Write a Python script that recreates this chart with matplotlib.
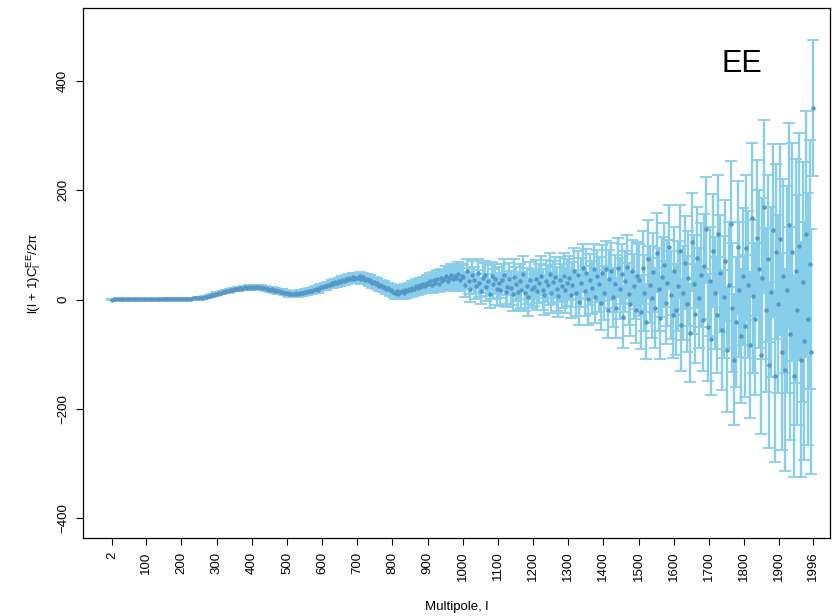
import numpy as np
import matplotlib
matplotlib.use("Agg")
import matplotlib.pyplot as plt

plt.rcParams['font.family'] = ['Liberation Sans', 'DejaVu Sans']
plt.rcParams['mathtext.fontset'] = 'custom'
plt.rcParams['mathtext.rm'] = 'Liberation Sans'
plt.rcParams['mathtext.it'] = 'Liberation Sans:italic'

# multipoles: every 5th l from 2 to 1992, plus the last one, 1996
ell = np.append(np.arange(2, 1993, 5), 1996)

# l(l+1)C_l^EE/2pi, 20 points per 100 multipoles
ee_vals = [
    0.2, 0.4, 0.3, 0.5, 0.6, 0.5, 0.7, 0.6, 0.8, 0.7, 0.8, 0.9, 0.8, 0.9, 1.0, 0.9, 1.0, 1.1, 1.0, 1.1,
    1.1, 1.2, 1.1, 1.3, 1.2, 1.3, 1.4, 1.3, 1.4, 1.5, 1.4, 1.5, 1.5, 1.6, 1.5, 1.6, 1.7, 1.6, 1.7, 1.8,
    1.8, 1.9, 1.9, 2.0, 2.1, 2.0, 2.2, 2.3, 2.4, 2.6, 2.9, 3.3, 3.8, 4.5, 5.2, 6.0, 7.0, 7.9, 8.8, 9.9,
    11.2, 12.5, 12.1, 14.0, 14.3, 15.8, 15.2, 17.1, 17.6, 18.0, 19.4, 18.8, 20.3, 20.9, 19.9, 21.8, 22.4, 21.5, 23.0, 22.2,
    23.6, 22.1, 24.0, 22.8, 21.5, 22.9, 20.7, 21.2, 19.6, 19.9, 18.1, 18.8, 16.7, 17.2, 15.4, 15.9, 14.1, 14.6, 13.0, 12.8,
    11.8, 10.3, 11.1, 9.6, 10.4, 11.5, 10.1, 12.0, 12.6, 11.8, 14.0, 13.6, 15.4, 16.7, 15.9, 18.2, 19.1, 18.4, 21.0, 22.3,
    22.5, 25.4, 24.1, 27.2, 26.5, 29.6, 28.4, 31.8, 30.3, 33.5, 32.4, 35.9, 34.2, 37.8, 36.1, 39.5, 37.4, 41.2, 38.6, 40.3,
    38.9, 42.5, 37.6, 40.8, 36.2, 38.4, 33.9, 35.7, 31.0, 32.6, 28.4, 30.1, 25.7, 27.3, 22.9, 24.0, 19.8, 21.6, 17.3, 18.5,
    14.8, 12.1, 16.3, 10.9, 13.7, 15.8, 11.6, 17.4, 15.0, 19.6, 17.2, 21.8, 18.9, 24.3, 20.5, 26.7, 23.1, 28.5, 25.9, 31.2,
    28.4, 33.6, 26.9, 35.1, 31.2, 37.8, 29.5, 39.6, 34.0, 36.9, 42.7, 33.8, 40.5, 45.2, 37.1, 43.9, 39.2, 47.6, 36.5, 44.1,
    41.5, 27.3, 52.6, 33.8, 19.4, 45.9, 36.2, 24.7, 48.3, 30.1, 15.8, 39.7, 44.6, 22.5, 34.9, 11.2, 42.8, 28.6, 37.4, 19.9,
    31.4, 18.2, 36.7, 45.1, 14.9, 22.3, 37.8, 21.5, 9.6, 42.3, 28.0, 14.7, 33.9, 18.4, 47.2, 12.6, 24.8, 5.1, 35.5, 20.2,
    22.7, 38.3, 15.9, 29.8, 44.1, 18.4, 8.6, 34.2, 26.9, 47.5, 12.8, 31.6, 40.9, 20.1, 6.7, 36.3, 24.4, 43.8, 17.2, 30.7,
    39.5, 8.8, 27.3, 52.4, 12.1, 44.7, -3.9, 31.2, 58.6, 15.3, 47.9, 1.4, 36.8, 22.1, 55.7, 5.5, 43.3, 27.9, -6.6, 48.2,
    12.4, 55.9, -18.3, 38.6, 52.2, 4.8, 29.5, -14.7, 58.3, 20.1, 46.8, -31.9, 33.4, 60.5, 9.7, -8.2, 51.6, 24.3, -19.5, 43.9,
    35.8, -22.6, 58.4, 11.7, -40.3, 74.1, 27.6, 2.9, 49.8, -15.4, 86.2, 19.3, -33.7, 41.5, 63.9, -5.8, 30.4, 97.1, 8.6, -27.9,
    52.7, -18.4, 24.6, 88.3, -45.9, 11.8, 67.5, -8.3, 39.1, -60.7, 105.4, 28.2, -25.6, 76.9, 3.4, 44.8, -37.1, 61.3, 130.0, -50.2,
    33.5, -72.4, 89.8, 12.6, -28.3, 120.7, 47.9, -55.1, 5.2, 71.4, -91.6, 26.8, 138.2, -14.7, -110.0, -40.9, 95.6, 18.1, -66.8, 42.4,
    -48.6, 95.3, 27.4, -82.9, 148.7, 6.1, -35.8, 112.4, 55.7, -101.3, 38.9, 170.2, -19.6, 74.8, -120.5, 14.3, 126.9, -140.0, 88.1, -7.4,
    110.6, -95.2, 42.8, -128.7, 18.4, 135.9, -62.3, 87.1, -140.6, 52.4, -18.9, 97.5, -110.2, 31.7, -75.4, 120.3, -35.6, 64.9, -95.0, 351.0,
]

# half-length of each error bar
ee_errs = [
    0.8, 0.6, 0.5, 0.5, 0.5, 0.5, 0.5, 0.5, 0.5, 0.5, 0.5, 0.5, 0.5, 0.5, 0.5, 0.5, 0.5, 0.5, 0.5, 0.5,
    0.5, 0.5, 0.5, 0.5, 0.6, 0.6, 0.6, 0.6, 0.6, 0.6, 0.6, 0.6, 0.7, 0.7, 0.7, 0.7, 0.7, 0.7, 0.7, 0.7,
    0.7, 0.8, 0.8, 0.8, 0.9, 0.9, 0.9, 1.0, 1.0, 1.1, 1.1, 1.2, 1.2, 1.3, 1.4, 1.4, 1.5, 1.6, 1.7, 1.8,
    2.0, 2.1, 2.2, 2.3, 2.3, 2.4, 2.5, 2.5, 2.6, 2.7, 2.8, 2.8, 2.9, 3.0, 3.0, 3.1, 3.2, 3.2, 3.3, 3.4,
    3.5, 3.5, 3.6, 3.6, 3.7, 3.7, 3.8, 3.8, 3.9, 3.9, 4.0, 4.0, 4.1, 4.1, 4.2, 4.2, 4.3, 4.3, 4.4, 4.5,
    4.5, 4.6, 4.6, 4.7, 4.7, 4.8, 4.8, 4.9, 4.9, 5.0, 5.0, 5.1, 5.1, 5.2, 5.2, 5.3, 5.3, 5.4, 5.4, 5.5,
    5.6, 5.7, 5.8, 5.9, 6.0, 6.1, 6.2, 6.3, 6.4, 6.5, 6.6, 6.7, 6.8, 6.9, 7.0, 7.1, 7.2, 7.4, 7.6, 7.8,
    8.0, 8.1, 8.2, 8.3, 8.4, 8.5, 8.6, 8.7, 8.8, 8.9, 9.0, 9.1, 9.2, 9.3, 9.4, 9.5, 9.6, 9.7, 9.8, 9.9,
    10.0, 10.2, 10.4, 10.6, 10.8, 11.0, 11.2, 11.4, 11.6, 11.8, 12.0, 12.2, 12.4, 12.6, 12.8, 13.0, 13.2, 13.4, 13.6, 13.8,
    14.0, 14.4, 14.8, 15.2, 15.6, 16.0, 16.4, 16.8, 17.2, 17.6, 18.0, 18.4, 18.8, 19.2, 19.6, 20.0, 20.4, 20.8, 21.2, 21.6,
    22, 23, 22, 24, 23, 25, 24, 23, 26, 25, 24, 27, 26, 25, 28, 27, 26, 28, 27, 29,
    28, 29, 28, 30, 29, 31, 30, 31, 30, 32, 31, 33, 32, 33, 32, 34, 33, 35, 34, 35,
    34, 35, 34, 36, 35, 37, 36, 38, 37, 38, 37, 39, 38, 40, 39, 41, 40, 42, 41, 43,
    40, 42, 41, 43, 42, 44, 43, 45, 44, 46, 45, 47, 46, 48, 47, 49, 48, 50, 49, 51,
    50, 51, 52, 53, 52, 54, 53, 55, 54, 56, 55, 57, 56, 58, 57, 59, 58, 60, 59, 61,
    66, 68, 67, 70, 69, 71, 70, 73, 72, 74, 73, 76, 75, 74, 77, 76, 78, 77, 80, 79,
    81, 83, 82, 85, 84, 86, 85, 88, 87, 90, 89, 91, 90, 93, 92, 95, 94, 96, 95, 98,
    100, 102, 104, 103, 106, 108, 107, 110, 112, 111, 114, 116, 115, 118, 120, 119, 122, 124, 123, 126,
    130, 133, 135, 134, 138, 140, 139, 143, 145, 144, 148, 158, 150, 153, 152, 156, 158, 157, 160, 163,
    175, 180, 178, 185, 190, 188, 195, 200, 185, 205, 210, 208, 215, 220, 218, 225, 230, 228, 225, 125,
]

x_ticks = [2, 100, 200, 300, 400, 500, 600, 700, 800, 900, 1000,
           1100, 1200, 1300, 1400, 1500, 1600, 1700, 1800, 1900, 1996]
y_ticks = [-400, -200, 0, 200, 400]

fig = plt.figure(figsize=(8.39, 6.16), dpi=100)
ax = fig.add_axes([0.099, 0.127, 0.890, 0.860])

ax.errorbar(ell, ee_vals, yerr=ee_errs, fmt='none', ecolor='#87ceeb',
            elinewidth=1.7, capsize=4.5, capthick=1.3, zorder=2)
ax.plot(ell, ee_vals, 'o', color='#5497c9', markersize=3.2,
        markeredgewidth=0, zorder=3)

ax.set_xlim(-80, 2044)
ax.set_ylim(-436, 534)
ax.set_xticks(x_ticks)
ax.set_xticklabels([str(t) for t in x_ticks], rotation=90, fontsize=9.5)
ax.set_yticks(y_ticks)
ax.set_yticklabels([str(t).replace('-', '\u2212') for t in y_ticks],
                   rotation=90, va='center', fontsize=9.5)
ax.tick_params(direction='out', length=5, width=0.8, pad=5)
for sp in ax.spines.values():
    sp.set_linewidth(0.9)

ax.set_xlabel('Multipole, l', fontsize=9.5, labelpad=14)
ax.set_ylabel(r'l(l + 1)$\mathregular{C_l^{EE}}$/2π', fontsize=9.5, labelpad=10)
ax.text(1795, 431, 'EE', fontsize=22, ha='center', va='center')

fig.savefig('out.png', dpi=100)
